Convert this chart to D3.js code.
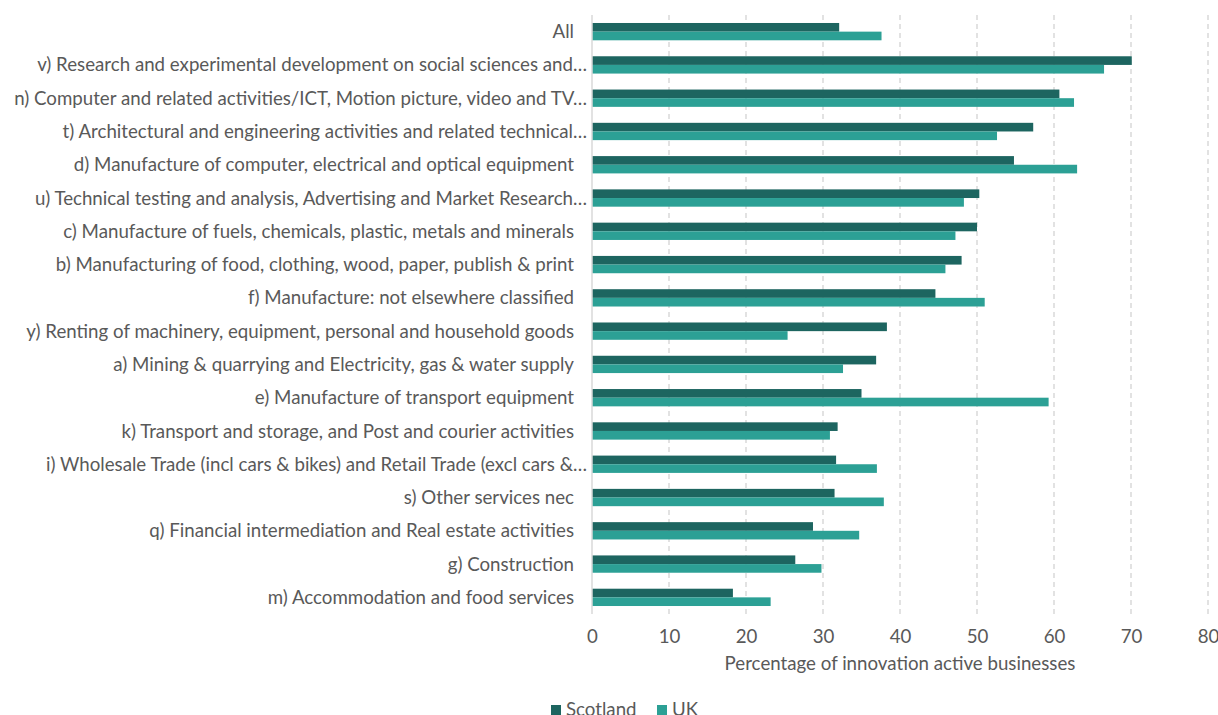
<!DOCTYPE html>
<html>
	<head>
		<meta charset="utf-8" />
		<title>Innovation active businesses by sector</title>
		<script src="https://cdn.jsdelivr.net/npm/d3@7"></script>
		<style>
			body {
				margin: 0;
				background: #fff;
				font-family: 'Lato', 'Open Sans', sans-serif;
			}
			.cat-label,
			.tick text,
			.axis-title,
			.legend text {
				fill: #595959;
			}
		</style>
	</head>
	<body>
		<svg id="chart"></svg>
		<script>
			const categories = [
				'All',
				'v) Research and experimental development on social sciences and…',
				'n) Computer and related activities/ICT, Motion picture, video and TV…',
				't) Architectural and engineering activities and related technical…',
				'd) Manufacture of computer, electrical and optical equipment',
				'u) Technical testing and analysis, Advertising and Market Research…',
				'c) Manufacture of fuels, chemicals, plastic, metals and minerals',
				'b) Manufacturing of food, clothing, wood, paper, publish & print',
				'f) Manufacture: not elsewhere classified',
				'y) Renting of machinery, equipment, personal and household goods',
				'a) Mining & quarrying and Electricity, gas & water supply',
				'e) Manufacture of transport equipment',
				'k) Transport and storage, and Post and courier activities',
				'i) Wholesale Trade (incl cars & bikes) and Retail Trade (excl cars &…',
				's) Other services nec',
				'q) Financial intermediation and Real estate activities',
				'g) Construction',
				'm) Accommodation and food services',
			];
			const scotland = [
				32.1, 70.1, 60.7, 57.3, 54.8, 50.3, 50.0, 48.0, 44.6, 38.3,
				36.9, 35.0, 31.9, 31.7, 31.5, 28.7, 26.4, 18.3,
			];
			const uk = [
				37.6, 66.5, 62.6, 52.6, 63.0, 48.3, 47.2, 45.9, 51.0, 25.4,
				32.6, 59.3, 30.9, 37.0, 37.9, 34.7, 29.8, 23.2,
			];
			const seriesNames = ['Scotland', 'UK'];
			const seriesColors = ['#1d6560', '#2ca095'];
			const xTicks = [0, 10, 20, 30, 40, 50, 60, 70, 80];

			const width = 1218;
			const height = 715;
			const plot = { left: 592, right: 1208, top: 15, bottom: 614 };
			const fontSize = '18.7px';

			const svg = d3
				.select('#chart')
				.attr('width', width)
				.attr('height', height);

			const x = d3
				.scaleLinear()
				.domain([0, 80])
				.range([plot.left, plot.right]);

			const y = d3
				.scaleBand()
				.domain(categories)
				.range([plot.top, plot.bottom])
				.paddingInner(0.48)
				.paddingOuter(0.24);

			const ySub = d3
				.scaleBand()
				.domain(seriesNames)
				.range([0, y.bandwidth()]);

			// dashed gridlines
			svg.append('g')
				.selectAll('line')
				.data(xTicks.filter((d) => d > 0))
				.join('line')
				.attr('x1', (d) => x(d))
				.attr('x2', (d) => x(d))
				.attr('y1', plot.top)
				.attr('y2', plot.bottom)
				.attr('stroke', '#d9d9d9')
				.attr('stroke-width', 1.5)
				.attr('stroke-dasharray', '5,4');

			// bars
			const rows = categories.map((c, i) => ({
				cat: c,
				values: [scotland[i], uk[i]],
			}));

			const groups = svg
				.append('g')
				.selectAll('g')
				.data(rows)
				.join('g')
				.attr('transform', (d) => `translate(0,${y(d.cat)})`);

			groups
				.selectAll('rect')
				.data((d) =>
					d.values.map((v, j) => ({ name: seriesNames[j], v, j }))
				)
				.join('rect')
				.attr('x', x(0))
				.attr('y', (d) => ySub(d.name))
				.attr('width', (d) => x(d.v) - x(0))
				.attr('height', ySub.bandwidth())
				.attr('fill', (d) => seriesColors[d.j]);

			// category axis line
			svg.append('line')
				.attr('x1', x(0))
				.attr('x2', x(0))
				.attr('y1', plot.top)
				.attr('y2', plot.bottom)
				.attr('stroke', '#d9d9d9')
				.attr('stroke-width', 1.5);

			// category labels
			svg.append('g')
				.selectAll('text')
				.data(categories)
				.join('text')
				.attr('class', 'cat-label')
				.attr('x', (d) => (d.endsWith('…') ? 587 : 574))
				.attr('y', (d) => y(d) + y.bandwidth() / 2)
				.attr('dy', '0.35em')
				.attr('text-anchor', 'end')
				.style('font-size', fontSize)
				.text((d) => d);

			// x axis
			const xAxis = svg
				.append('g')
				.attr('transform', `translate(0,${plot.bottom})`)
				.call(d3.axisBottom(x).tickValues(xTicks).tickSize(0).tickPadding(16));
			xAxis.select('.domain').remove();
			xAxis
				.selectAll('text')
				.style('font-size', fontSize)
				.style('font-family', 'Lato, sans-serif');

			svg.append('text')
				.attr('class', 'axis-title')
				.attr('x', (plot.left + plot.right) / 2)
				.attr('y', 670)
				.attr('text-anchor', 'middle')
				.style('font-size', fontSize)
				.text('Percentage of innovation active businesses');

			// legend
			const legend = svg.append('g').attr('class', 'legend');
			const legendX = [551, 657];
			seriesNames.forEach((name, i) => {
				legend
					.append('rect')
					.attr('x', legendX[i])
					.attr('y', 705)
					.attr('width', 10)
					.attr('height', 10)
					.attr('fill', seriesColors[i]);
				legend
					.append('text')
					.attr('x', legendX[i] + 15)
					.attr('y', 716)
					.style('font-size', fontSize)
					.text(name);
			});
		</script>
	</body>
</html>
